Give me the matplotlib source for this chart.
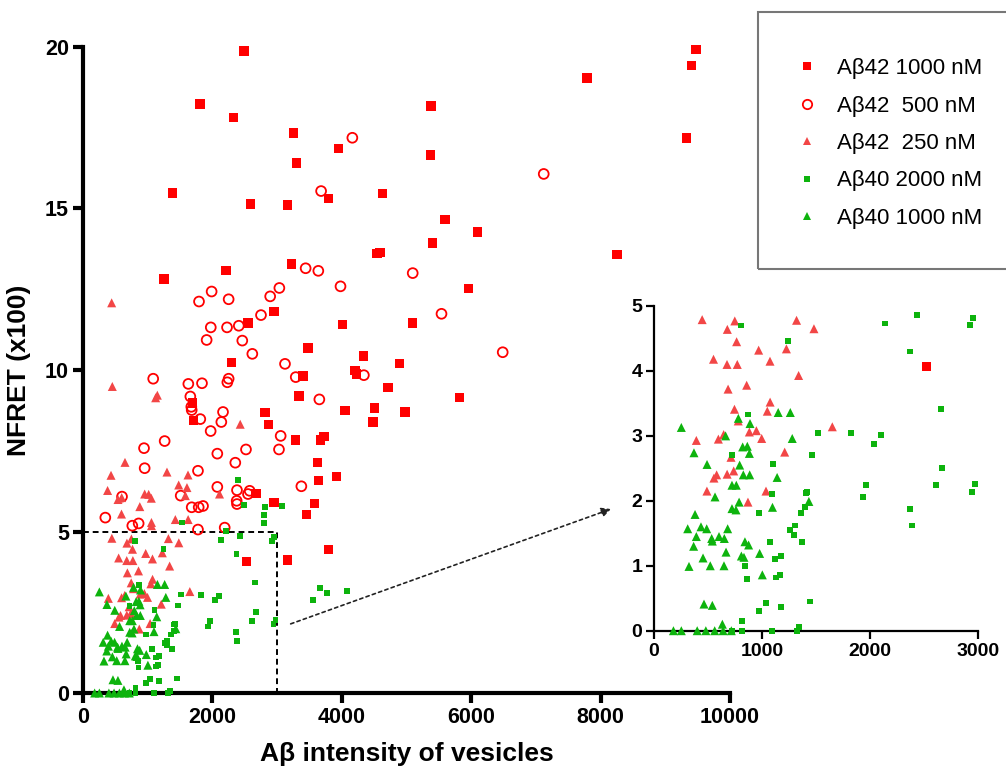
import numpy as np
import matplotlib
matplotlib.use("Agg")
import matplotlib.pyplot as plt
from matplotlib.lines import Line2D
from matplotlib.patches import Rectangle

plt.rcParams['font.family'] = ['Liberation Sans', 'DejaVu Sans']

labels = ["Aβ42 1000 nM", "Aβ42  500 nM", "Aβ42  250 nM", "Aβ40 2000 nM", "Aβ40 1000 nM"]

# Aβ42 1000 nM (filled red squares)
a42_1000_x = [2488, 1808, 2326, 3251, 3946, 3297, 1381, 2591, 3158, 3797, 4632, 4545, 4590, 3225, 2212,
              1250, 2952, 2548, 4010, 3475, 4336, 9475, 9408, 7790, 5379, 5372, 9326, 5595, 6095, 5402,
              8254, 5962, 5096, 4889, 4207, 4228, 3400, 4711, 5822, 3340, 4050, 4503, 4975, 4485, 3728,
              3675, 3622, 3637, 3921, 3580, 3457, 2298, 1690, 1710, 2813, 2865, 3280, 2676, 2950, 3792,
              3163, 2525]
a42_1000_y = [19.88, 18.23, 17.81, 17.34, 16.86, 16.41, 15.48, 15.14, 15.11, 15.31, 15.46, 13.60, 13.64, 13.28, 13.08,
              12.82, 11.81, 11.46, 11.40, 10.68, 10.43, 19.93, 19.42, 19.04, 18.17, 16.66, 17.18, 14.66, 14.27, 13.93,
              13.57, 12.53, 11.45, 10.21, 9.99, 9.88, 9.82, 9.45, 9.15, 9.19, 8.74, 8.83, 8.70, 8.39, 7.95,
              7.83, 7.14, 6.57, 6.71, 5.87, 5.53, 10.24, 8.98, 8.43, 8.69, 8.31, 7.83, 6.18, 5.90, 4.44,
              4.12, 4.07]

# Aβ42 500 nM (open red circles)
a42_500_x = [4163, 3680, 3441, 3637, 5096, 3980, 3035, 2893, 1988, 1793, 2251, 2751, 5541, 1975, 2226,
             2408, 1911, 2462, 2617, 3122, 1085, 1628, 1839, 2251, 2231, 3288, 4341, 7121, 6487, 3653,
             3375, 1659, 1674, 1680, 1813, 2164, 2138, 1973, 1262, 943, 3055, 3029, 2076, 2519, 2354,
             953, 1777, 2076, 2380, 2375, 2380, 2576, 2550, 1510, 603, 1680, 1788, 1855, 345, 762,
             860, 1777, 2190]
a42_500_y = [17.19, 15.54, 13.15, 13.07, 13.00, 12.59, 12.54, 12.28, 12.43, 12.12, 12.19, 11.70, 11.74, 11.32, 11.32,
             11.37, 10.93, 10.91, 10.50, 10.19, 9.73, 9.57, 9.59, 9.73, 9.62, 9.78, 9.84, 16.07, 10.55, 9.09,
             6.40, 9.18, 8.86, 8.76, 8.48, 8.70, 8.39, 8.11, 7.80, 7.58, 7.96, 7.54, 7.41, 7.54, 7.13,
             6.96, 6.88, 6.38, 6.28, 5.95, 5.85, 6.26, 6.16, 6.11, 6.08, 5.75, 5.75, 5.79, 5.43, 5.18,
             5.25, 5.06, 5.12]

# Aβ42 250 nM (red triangles)
a42_250_x = [443, 453, 1123, 1149, 2430, 649, 433, 1298, 1623, 380, 1479, 1607, 953, 1015, 1056,
             598, 541, 2110, 1582, 878, 595, 1427, 1625, 1058, 1058,
             446, 748, 679, 1320, 1481, 765, 969, 1226, 551, 676, 771, 1074, 1339, 858, 686,
             1075, 745, 1049, 780, 1651, 392, 645, 596, 883, 948, 997, 1210, 713, 738, 677,
             580, 555, 490, 1037, 870]
a42_250_y = [12.08, 9.49, 9.14, 9.22, 8.32, 7.14, 6.74, 6.84, 6.75, 6.27, 6.44, 6.36, 6.16, 6.15, 6.03,
             6.05, 5.99, 6.16, 6.11, 5.77, 5.54, 5.37, 5.37, 5.28, 5.18,
             4.79, 4.77, 4.64, 4.78, 4.65, 4.45, 4.32, 4.34, 4.18, 4.10, 4.10, 4.15, 3.93, 3.78, 3.72,
             3.52, 3.41, 3.38, 3.23, 3.14, 2.93, 3.02, 2.95, 3.06, 3.08, 2.96, 2.75, 2.67, 2.46, 2.41,
             2.40, 2.35, 2.15, 2.15, 1.98]

# Aβ40 2000 nM (small green squares)
a40_2000_x = [2396, 2483, 2808, 2803, 2803, 3073, 1525, 2210, 3663, 3776, 3560, 4075,
              809, 1244, 2136, 2432, 2953, 2922, 2373, 2660, 2669, 2611, 2975, 2944, 2367, 2385,
              1821, 2040, 2105, 1960, 1938, 1517, 1465, 1105, 1090, 974, 870, 719, 1407, 1420,
              1400, 1364, 1259, 1302, 1296, 1370, 1073, 1122, 1173, 1133, 1165, 845, 858, 1037,
              975, 1173, 1447, 812, 1345, 812, 1096, 1320, 719]
a40_2000_y = [6.59, 5.82, 5.75, 5.51, 5.27, 5.78, 5.28, 5.02, 3.24, 3.10, 2.88, 3.15,
              4.70, 4.46, 4.73, 4.86, 4.82, 4.71, 4.30, 3.42, 2.50, 2.24, 2.26, 2.13, 1.88, 1.62,
              3.04, 2.87, 3.01, 2.24, 2.06, 3.05, 2.71, 2.57, 2.10, 1.81, 3.33, 2.70, 2.12, 2.14,
              1.91, 1.81, 1.55, 1.62, 1.48, 1.36, 1.36, 1.10, 1.15, 0.82, 0.86, 1.00, 0.79, 0.43,
              0.30, 0.37, 0.45, 0.15, 0.06, 0.00, 0.00, 0.00, 0.00]

# Aβ40 1000 nM (green triangles)
a40_1000_x = [253, 370, 491, 565, 380, 312, 392, 435, 488, 534, 540, 602, 651, 682, 367,
              454, 324, 521, 648, 667, 463, 540, 633, 663, 722, 762, 722, 759, 788, 793,
              827, 886, 821, 864, 883, 889, 781, 809, 833, 842, 876, 978, 1003, 1150, 1262,
              1280, 1140, 1097, 1434,
              180, 253, 400, 480, 562, 640, 716]
a40_1000_y = [3.13, 2.74, 2.56, 2.06, 1.79, 1.57, 1.45, 1.60, 1.57, 1.42, 1.38, 1.45, 1.42, 1.57, 1.30,
              1.12, 0.99, 1.00, 1.00, 1.21, 0.41, 0.39, 0.10, 3.00, 2.24, 2.24, 1.88, 1.86, 1.98, 2.55,
              2.40, 2.40, 2.83, 2.84, 2.73, 3.19, 3.27, 1.15, 1.13, 1.37, 1.32, 1.19, 0.86, 3.36, 3.36,
              2.96, 2.36, 1.90, 1.99,
              0.00, 0.00, 0.00, 0.00, 0.00, 0.00, 0.00]

main_xticks = [0, 2000, 4000, 6000, 8000, 10000]
main_yticks = [0, 5, 10, 15, 20]
inset_xticks = [0, 1000, 2000, 3000]
inset_yticks = [0, 1, 2, 3, 4, 5]

RED = '#FF0000'
RED_T = '#F24646'
GREEN = '#0DB30D'

series = [
    (a42_1000_x, a42_1000_y, dict(marker='s', s=46, facecolors=RED, edgecolors='none')),
    (a42_500_x, a42_500_y, dict(marker='o', s=50, facecolors='none', edgecolors=RED, linewidths=1.3)),
    (a42_250_x, a42_250_y, dict(marker='^', s=42, facecolors=RED_T, edgecolors='none')),
    (a40_2000_x, a40_2000_y, dict(marker='s', s=18, facecolors=GREEN, edgecolors='none')),
    (a40_1000_x, a40_1000_y, dict(marker='^', s=42, facecolors=GREEN, edgecolors='none')),
]

W, H = 1006, 769
fig = plt.figure(figsize=(W / 100, H / 100), dpi=100)

def fx(px):
    return px / W

def fy(py):
    return 1 - py / H

ax = fig.add_axes([fx(83), fy(693), fx(730) - fx(83), fy(47) - fy(693)])
axi = fig.add_axes([fx(654), fy(630.7), fx(978) - fx(654), fy(306) - fy(630.7)])
axi.patch.set_alpha(0)

for xs, ys, kw in series:
    ax.scatter(xs, ys, clip_on=False, zorder=3, **kw)
    xa, ya = np.asarray(xs), np.asarray(ys)
    m = (xa <= 3000) & (ya <= 5)
    if m.any():
        axi.scatter(xa[m], ya[m], clip_on=False, zorder=3, **kw)

for a, lw, tl, fs in [(ax, 3.0, 7, 15.5), (axi, 1.6, 5.5, 14)]:
    for side in ['top', 'right']:
        a.spines[side].set_visible(False)
    for side in ['left', 'bottom']:
        a.spines[side].set_linewidth(lw)
    a.tick_params(width=lw, length=tl, labelsize=fs, pad=3)

ax.set_xlim(0, 10000)
ax.set_ylim(0, 20)
ax.set_xticks(main_xticks)
ax.set_yticks(main_yticks)
ax.set_xticklabels([str(t) for t in main_xticks], fontweight='bold')
ax.set_yticklabels([str(t) for t in main_yticks], fontweight='bold')
ax.set_xlabel("Aβ intensity of vesicles", fontsize=19, fontweight='bold', labelpad=10)
ax.set_ylabel("NFRET (x100)", fontsize=19, fontweight='bold', labelpad=10)

axi.set_xlim(0, 3000)
axi.set_ylim(0, 5)
axi.set_xticks(inset_xticks)
axi.set_yticks(inset_yticks)
axi.set_xticklabels([str(t) for t in inset_xticks], fontweight='bold')
axi.set_yticklabels([str(t) for t in inset_yticks], fontweight='bold')

# dashed box marking the zoomed region
ax.plot([0, 3000, 3000], [5, 5, 0], ls=(0, (3, 2)), color='black', lw=1.4, zorder=2)

# dotted arrow to the inset
ax.annotate("", xy=(611, H - 509), xycoords='figure pixels',
            xytext=(3210, 2.14), textcoords='data',
            arrowprops=dict(arrowstyle='-|>', linestyle=(0, (2, 2)), color='#222222',
                            lw=1.2, mutation_scale=14, shrinkA=0, shrinkB=0))

# legend
rect = Rectangle((fx(758), fy(269)), fx(1012) - fx(758), fy(12) - fy(269),
                 transform=fig.transFigure, fill=False, edgecolor='#777777', lw=1.5)
fig.add_artist(rect)
handles = []
for (xs, ys, kw), lab in zip(series, labels):
    fc = kw['facecolors']
    ec = kw['edgecolors']
    ms = np.sqrt(kw['s']) * 0.95
    handles.append(Line2D([], [], ls='none', marker=kw['marker'], markersize=ms,
                          markerfacecolor=fc, markeredgecolor=(ec if ec != 'none' else fc),
                          markeredgewidth=kw.get('linewidths', 0.0), label=lab))
fig.legend(handles=handles, loc='upper left', bbox_to_anchor=(fx(783), fy(47)),
           frameon=False, fontsize=16, labelspacing=0.74, handletextpad=0.75,
           handlelength=1.2, borderpad=0)

fig.savefig("out.png", dpi=100)
